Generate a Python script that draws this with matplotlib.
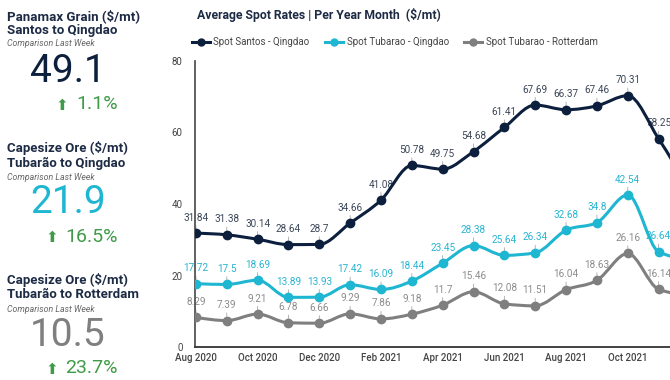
import matplotlib
matplotlib.use('Agg')
import matplotlib.pyplot as plt
from matplotlib.path import Path
from matplotlib.patches import PathPatch
from matplotlib.lines import Line2D
import numpy as np

# --- data ---
months = ["Aug 2020", "Sep 2020", "Oct 2020", "Nov 2020", "Dec 2020", "Jan 2021",
          "Feb 2021", "Mar 2021", "Apr 2021", "May 2021", "Jun 2021", "Jul 2021",
          "Aug 2021", "Sep 2021", "Oct 2021", "Nov 2021", "Dec 2021"]
santos_qingdao = [31.84, 31.38, 30.14, 28.64, 28.7, 34.66, 41.08, 50.78, 49.75,
                  54.68, 61.41, 67.69, 66.37, 67.46, 70.31, 58.25, 44.0]
tubarao_qingdao = [17.72, 17.5, 18.69, 13.89, 13.93, 17.42, 16.09, 18.44, 23.45,
                   28.38, 25.64, 26.34, 32.68, 34.8, 42.54, 26.64, 24.5]
tubarao_rotterdam = [8.29, 7.39, 9.21, 6.78, 6.66, 9.29, 7.86, 9.18, 11.7,
                     15.46, 12.08, 11.51, 16.04, 18.63, 26.16, 16.14, 14.5]
series_names = ["Spot Santos - Qingdao", "Spot Tubarao - Qingdao", "Spot Tubarao - Rotterdam"]

card_titles = ["Panamax Grain ($/mt)\nSantos to Qingdao",
               "Capesize Ore ($/mt)\nTubarão to Qingdao",
               "Capesize Ore ($/mt)\nTubarão to Rotterdam"]
card_values = ["49.1", "21.9", "10.5"]
card_changes = ["1.1%", "16.5%", "23.7%"]

NAVY = "#0c1f3d"
CYAN = "#1fb6d2"
GRAY = "#7f7f7f"
GREEN = "#3f9b47"
colors = [NAVY, CYAN, GRAY]
label_colors = ["#3b4658", "#2ab5d1", "#8c8c8c"]

W, H = 670, 380


def fx(x):
    return x / W


def fy(y):
    return 1 - y / H


def monotone_path(x, y):
    # d3 curveMonotoneX style bezier path
    x = np.asarray(x, float)
    y = np.asarray(y, float)
    h = np.diff(x)
    s = np.diff(y) / h
    m = np.zeros_like(y)
    for i in range(1, len(y) - 1):
        p = (s[i - 1] * h[i] + s[i] * h[i - 1]) / (h[i - 1] + h[i])
        m[i] = (np.sign(s[i - 1]) + np.sign(s[i])) * min(abs(s[i - 1]), abs(s[i]), 0.5 * abs(p))
    m[0] = (3 * s[0] - m[1]) / 2
    m[-1] = (3 * s[-1] - m[-2]) / 2
    verts = [(x[0], y[0])]
    codes = [Path.MOVETO]
    for i in range(len(x) - 1):
        d = h[i] / 3
        verts += [(x[i] + d, y[i] + m[i] * d), (x[i + 1] - d, y[i + 1] - m[i + 1] * d), (x[i + 1], y[i + 1])]
        codes += [Path.CURVE4] * 3
    return Path(verts, codes)


fig = plt.figure(figsize=(6.7, 3.8), dpi=100)
fig.patch.set_facecolor("white")

# --- left cards ---
title_y = [9, 141, 273]
comp_y = [43, 177, 309]
value_base = [82, 213, 346]
change_y = [104, 237, 368]
arrow_x = [62, 52, 52]
for i in range(3):
    fig.text(fx(7), fy(title_y[i]), card_titles[i], ha="left", va="top",
             fontsize=9.5, fontweight="bold", color="#1d2b45", family="Roboto",
             linespacing=1.15)
    fig.text(fx(7), fy(comp_y[i]), "Comparison Last Week", ha="left", va="center",
             fontsize=6.3, style="italic", color="#666666", family="Roboto")
    fig.text(fx(68), fy(value_base[i]), card_values[i], ha="center", va="baseline",
             fontsize=28, color=colors[i], family="Roboto")
    fig.text(fx(118), fy(change_y[i]), card_changes[i], ha="right", va="center",
             fontsize=14, color=GREEN, family="Roboto")
    fig.text(fx(arrow_x[i]), fy(change_y[i] + 1), "⬆", ha="center", va="center",
             fontsize=11, color=GREEN, family="DejaVu Sans")

# --- chart ---
ax = fig.add_axes([fx(195), 1 - 347 / H, 1 - fx(195), (347 - 61) / H])
xs = np.arange(len(months))
all_series = [santos_qingdao, tubarao_qingdao, tubarao_rotterdam]

for vals, c, lc in zip(all_series, colors, label_colors):
    patch = PathPatch(monotone_path(xs, vals), facecolor="none", edgecolor=c,
                      lw=2.2, zorder=3, capstyle="round", joinstyle="round")
    ax.add_patch(patch)
    ax.plot(xs, vals, ls="none", marker="o", ms=6, color=c, zorder=4, clip_on=True)
    for x, v in zip(xs, vals):
        ax.annotate(f"{v:g}", (x, v), xytext=(0, 7.5), textcoords="offset points",
                    ha="center", va="bottom", fontsize=7.2, color=lc, family="Roboto",
                    zorder=2, annotation_clip=True,
                    arrowprops=dict(arrowstyle="-", color="#a8a8a8", lw=0.6,
                                    shrinkA=0, shrinkB=3))

ax.set_xlim(-0.03, 15.37)
ax.set_ylim(0, 80)
ax.set_yticks([0, 20, 40, 60, 80])
ax.set_xticks(xs[::2][:8])
ax.set_xticklabels(months[::2][:8])
ax.tick_params(axis="both", length=0, labelsize=7, colors="#444444")
ax.tick_params(axis="y", pad=9)
ax.tick_params(axis="x", pad=4)
for lbl in ax.get_xticklabels():
    lbl.set_fontweight("medium")
    lbl.set_family("Roboto")
for lbl in ax.get_yticklabels():
    lbl.set_family("Roboto")
for s in ["top", "right"]:
    ax.spines[s].set_visible(False)
ax.spines["left"].set_color("#555555")
ax.spines["left"].set_linewidth(1.3)
ax.spines["bottom"].set_color("#333333")
ax.spines["bottom"].set_linewidth(1.3)

fig.text(fx(197), fy(15), "Average Spot Rates | Per Year Month  ($/mt)", ha="left",
         va="center", fontsize=8.8, fontweight="bold", color="#1d2b45", family="Roboto")

handles = [Line2D([0], [0], color=c, lw=2.2, marker="o", ms=5) for c in colors]
leg = fig.legend(handles, series_names, loc="center left", bbox_to_anchor=(fx(192), fy(42)),
                 ncol=3, frameon=False, handlelength=1.8, handletextpad=0.4,
                 columnspacing=1.6, borderpad=0, borderaxespad=0,
                 prop={"family": "Roboto", "size": 7})
for t in leg.get_texts():
    t.set_color("#444444")

fig.savefig("out.png", dpi=100)
